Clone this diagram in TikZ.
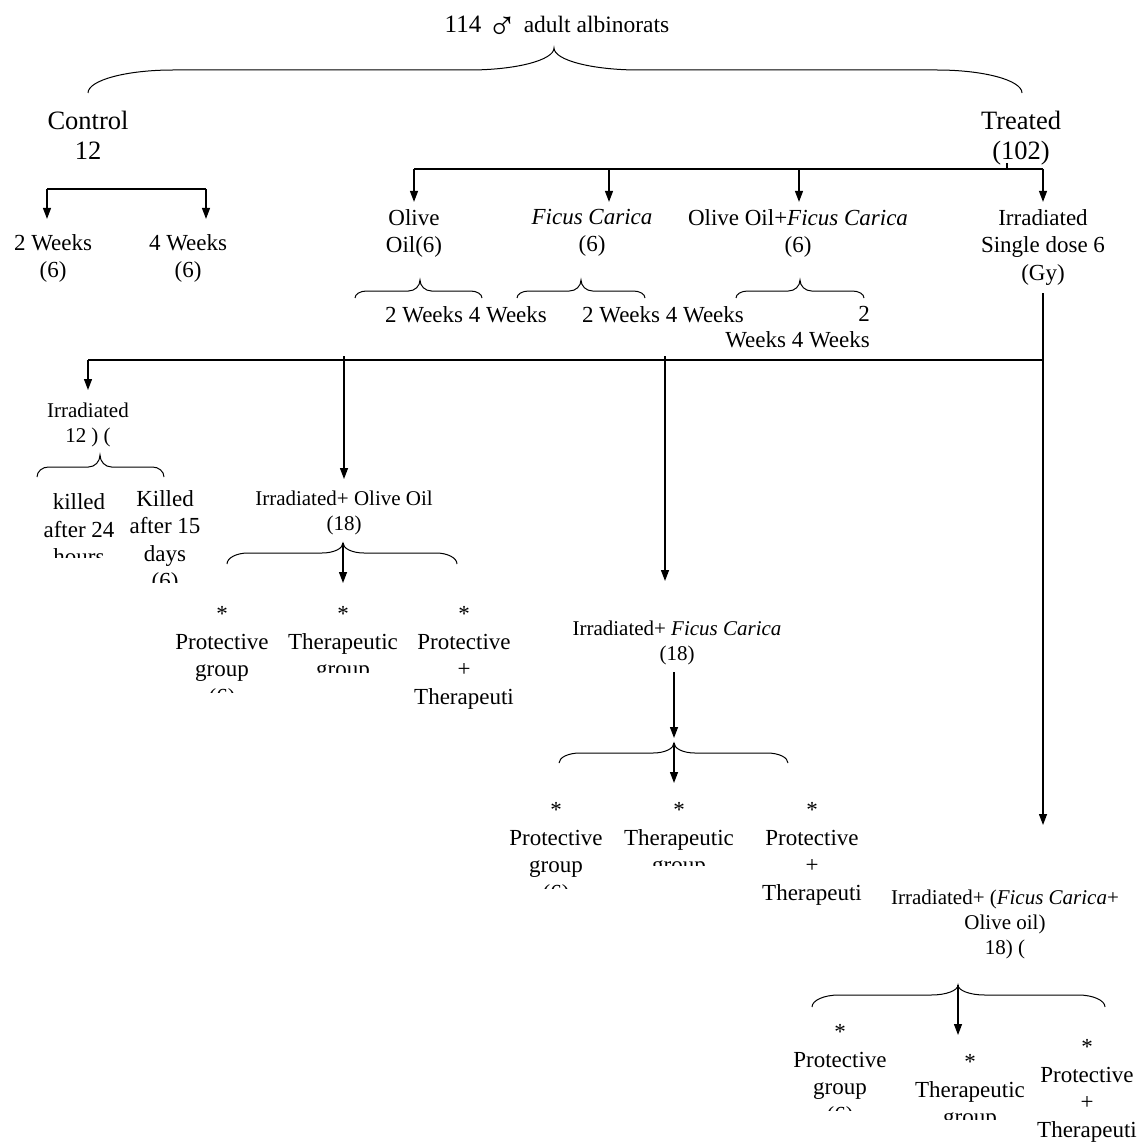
\documentclass[tikz,border=0pt]{standalone}
\usepackage{fontspec}
\setmainfont{Liberation Serif}
\usetikzlibrary{arrows.meta}

% curly bracket as Word draws it: left x, right x, tip x, end y, line y, tip y
\newcommand{\wordbrace}[6]{%
  \pgfmathsetmacro{\bracew}{(#2-#1)/11}%
  \draw[curly] (#1,#4)
    .. controls (#1,{#4-0.552*(#4-#5)}) and ({#1+0.448*\bracew},#5) .. ({#1+\bracew},#5)
    -- ({#3-\bracew},#5)
    .. controls ({#3-0.448*\bracew},#5) and (#3,{#6+0.552*(#5-#6)}) .. (#3,#6)
    .. controls (#3,{#6+0.552*(#5-#6)}) and ({#3+0.448*\bracew},#5) .. ({#3+\bracew},#5)
    -- ({#2-\bracew},#5)
    .. controls ({#2-0.448*\bracew},#5) and (#2,{#4-0.552*(#4-#5)}) .. (#2,#4);}

\begin{document}
\begin{tikzpicture}[x=1pt, y=-1pt,
	txt/.style={font=\fontsize{23}{27.5}\selectfont, align=center, inner sep=0pt, anchor=north},
	big/.style={font=\fontsize{26.5}{30}\selectfont, align=center, inner sep=0pt, anchor=north},
	small/.style={font=\fontsize{21}{25}\selectfont, align=center, inner sep=0pt, anchor=north},
	arrow/.style={-{Triangle[length=11pt,width=8pt]}, line width=1.3pt},
	bus/.style={line width=1.3pt},
	curly/.style={line width=1pt}
]
\useasboundingbox (0,0) rectangle (1139,1142);

% Top
\node[anchor=base] (title) at (557,33) {\fontsize{25}{30}\selectfont 114 \raisebox{-6.5pt}{\fontsize{40}{30}\selectfont ♂} \fontsize{23.5}{30}\selectfont adult albinorats};
\wordbrace{88}{1022}{554}{93}{70}{48}
\node[big] (control) at (88,110.6) {Control\\12};
\node[big] (treated) at (1021,110.6) {Treated\\(102)};

% Control
\node[txt] (ctwo) at (53,233.9) {2 Weeks\\(6)};
\node[txt] (cfour) at (188,233.9) {4 Weeks\\(6)};
\coordinate (cL) at (47,189);
\coordinate (cR) at (206,189);
\draw[bus] (cL) -- (cR);
\draw[arrow, shorten >=15pt] (cL) -- (cL |- ctwo.north);
\draw[arrow, shorten >=15pt] (cR) -- (cR |- cfour.north);

% Treated
\node[txt] (olive) at (414,208.9) {Olive\\Oil(6)};
\node[txt] (ficus) at (592,208.9) {\textit{Ficus Carica}\\(6)};
\node[txt] (both) at (798,208.9) {Olive Oil+\textit{Ficus Carica}\\(6)};
\node[txt] (irr) at (1043,208.9) {Irradiated\\Single dose 6\\(Gy)};
\coordinate (t1) at (414,169);
\coordinate (t2) at (609,169);
\coordinate (t3) at (799,169);
\coordinate (t4) at (1043,169);
\coordinate (tstub) at (1007,169);
\draw[bus] (t1) -- (t4);
\draw[bus] (tstub) -- ++(0,-6);
\foreach \t/\n in {t1/olive, t2/ficus, t3/both, t4/irr}
  \draw[arrow, shorten >=7pt] (\t) -- (\t |- \n.north);

\wordbrace{355}{482}{420}{298}{291}{280}
\wordbrace{517}{645}{581}{298}{291}{280}
\wordbrace{736}{864}{800}{298}{291}{280}
\node[txt] (wk1) at (466,305.9) {2 Weeks 4 Weeks};
\node[txt] (wk2) at (663,305.9) {2 Weeks 4 Weeks};
\node[txt, anchor=north east] (wk3) at (870,305.9) {2};
\begin{scope}
  \clip (700,328) rectangle (900,347);
  \node[txt, anchor=north east] (wk3b) at (870,331) {Weeks 4 Weeks};
\end{scope}

% Irradiated branches
\coordinate (b0) at (88,360);
\coordinate (b1) at (344,356);
\coordinate (b2) at (665,356);
\coordinate (b3) at (1043,360);
\draw[bus] (b0) -- (b3);
\node[small] (irr12) at (88,402.7) {Irradiated\\12 ) (};
\node[small] (irrolive) at (344,490.7) {Irradiated+ Olive Oil\\(18)};
\node[small] (irrficus) at (677,620.7) {Irradiated+ \textit{Ficus Carica}\\(18)};
\node[small] (irrboth) at (1005,889.7) {Irradiated+ (\textit{Ficus Carica}+\\Olive oil)\\18) (};
\draw[arrow, shorten >=12.7pt] (b0) -- (b0 |- irr12.north);
\draw[arrow, shorten >=11.7pt] (b1) -- (b1 |- irrolive.north);
\draw[arrow, shorten >=39.7pt] (b2) -- (b2 |- irrficus.north);
\draw[arrow, shorten <=8pt, shorten >=64.7pt] (irr.south) -- (irr.south |- irrboth.north);

% Irradiated only
\wordbrace{37}{164}{100}{477}{467}{455}
\begin{scope}
  \clip (0,480) rectangle (125,557);
  \node[txt] (kday) at (79,493.8) {killed\\after 24\\hours};
\end{scope}
\begin{scope}
  \clip (125,480) rectangle (215,582);
  \node[txt] (kweek) at (165,489.9) {Killed\\after 15\\days\\(6)};
\end{scope}

% Irradiated + Olive Oil
\wordbrace{227}{457}{343}{564}{553}{543}
\coordinate (otip) at (343,543);
\begin{scope}
  \clip (150,600) rectangle (282,692);
  \node[txt] (oprot) at (222,606.4) {*\\Protective\\group\\(6)};
\end{scope}
\begin{scope}
  \clip (282,600) rectangle (405,672);
  \node[txt] (other) at (343,606.4) {*\\Therapeutic\\group};
\end{scope}
\node[txt] (oboth) at (464,606.4) {*\\Protective\\+\\Therapeuti};
\draw[arrow, shorten >=23.4pt] (otip) -- (otip |- other.north);

% Irradiated + Ficus Carica
\coordinate (ftop) at (674,672);
\coordinate (ftip) at (674,743);
\draw[arrow, shorten >=5pt] (ftop) -- (ftip);
\wordbrace{559}{788}{674}{763}{753}{743}
\begin{scope}
  \clip (490,795) rectangle (617,888);
  \node[txt] (fprot) at (556,802.4) {*\\Protective\\group\\(6)};
\end{scope}
\begin{scope}
  \clip (617,795) rectangle (745,865);
  \node[txt] (fther) at (679,802.4) {*\\Therapeutic\\group};
\end{scope}
\node[txt] (fboth) at (812,802.4) {*\\Protective\\+\\Therapeuti};
\draw[arrow, shorten >=19.4pt] (ftip) -- (ftip |- fther.north);

% Irradiated + (Ficus Carica + Olive oil)
\wordbrace{812}{1105}{958}{1007}{995}{985}
\coordinate (btip) at (958,985);
\begin{scope}
  \clip (780,1015) rectangle (905,1110);
  \node[txt] (bprot) at (840,1024.4) {*\\Protective\\group\\(6)};
\end{scope}
\begin{scope}
  \clip (905,1040) rectangle (1035,1119);
  \node[txt] (bther) at (970,1054.4) {*\\Therapeutic\\group};
\end{scope}
\node[txt] (bboth) at (1087,1039.4) {*\\Protective\\+\\Therapeuti};
\draw[arrow, shorten >=19.4pt] (btip) -- (btip |- bther.north);
\end{tikzpicture}
\end{document}
